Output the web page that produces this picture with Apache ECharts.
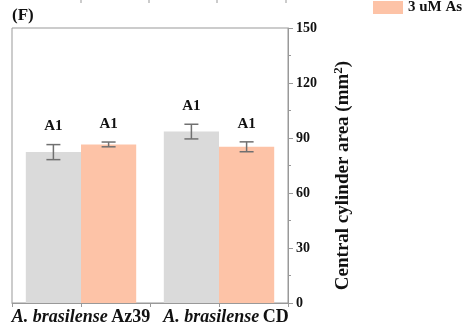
<!DOCTYPE html>
<html>
<head>
<meta charset="utf-8">
<script src="https://cdn.jsdelivr.net/npm/echarts@6/dist/echarts.min.js"></script>
<style>
  html, body { margin: 0; padding: 0; background: #fff; }
  #main { width: 465px; height: 326px; }
</style>
</head>
<body>
<div id="main"></div>
<script>
// 菌株类别
var strains = ['A. brasilense|Az39', 'A. brasilense|CD'];
// 系列名称
var seriesNames = ['Control', '3 uM As'];
// 平均值
var controlMean = [82.3, 93.5];
var arsenicMean = [86.5, 85.2];
// 误差（标准差）
var controlErr = [4.1, 4.0];
var arsenicErr = [1.3, 2.7];
// 显著性字母
var controlSig = ['A1', 'A1'];
var arsenicSig = ['A1', 'A1'];
// y 轴刻度
var yMin = 0, yMax = 150, yStep = 30;

var serif = '"Liberation Serif", "DejaVu Serif", serif';
var barColors = ['#dadada', '#fdc3a7'];

// 误差线数据：[类别序号, 均值, 误差, 字母, 偏移]
function errData(mean, err, sig, side) {
    return mean.map(function (v, i) {
        return [i, v, err[i], sig[i], side];
    });
}

function renderErr(params, api) {
    var idx = api.value(0);
    var mean = api.value(1);
    var err = api.value(2);
    var sig = api.value(3);
    var side = api.value(4);
    var bandW = api.size([1, 0])[0];
    var cx = api.coord([idx, mean])[0] + side * bandW * 0.2;
    var yTop = api.coord([idx, mean + err])[1];
    var yBot = api.coord([idx, mean - err])[1];
    var half = 7;
    var style = { stroke: '#707070', lineWidth: 1.5 };
    return {
        type: 'group',
        children: [
            { type: 'line', shape: { x1: cx, y1: yTop, x2: cx, y2: yBot }, style: style },
            { type: 'line', shape: { x1: cx - half, y1: yTop, x2: cx + half, y2: yTop }, style: style },
            { type: 'line', shape: { x1: cx - half, y1: yBot, x2: cx + half, y2: yBot }, style: style },
            {
                type: 'text',
                style: {
                    text: sig, x: cx, y: yTop - 18,
                    align: 'center', verticalAlign: 'middle',
                    font: 'bold 15px ' + serif, fill: '#111'
                }
            }
        ]
    };
}

// 上一幅图残留的刻度
var topTicks = [81, 149, 217, 286].map(function (x) {
    return { type: 'line', shape: { x1: x, y1: 0, x2: x, y2: 3 }, style: { stroke: '#999', lineWidth: 1 } };
});

var myChart = echarts.init(document.getElementById('main'));

var option = {
    animation: false,
    backgroundColor: '#fff',
    grid: {
        left: 12, right: 177, top: 28, bottom: 23,
        show: true, borderColor: '#999', borderWidth: 1
    },
    legend: {
        data: [seriesNames[1]],
        left: 368, top: -5,
        itemWidth: 30, itemHeight: 13, itemGap: 4,
        icon: 'rect',
        textStyle: { fontFamily: serif, fontWeight: 'bold', fontSize: 15, color: '#111' }
    },
    xAxis: [{
        type: 'category',
        data: strains,
        axisLine: { onZero: false, lineStyle: { color: '#999' } },
        axisTick: { show: false },
        axisLabel: {
            interval: 0,
            hideOverlap: false,
            margin: 5,
            formatter: function (v, i) {
                var p = v.split('|');
                return '{' + (i === 1 ? 'i2' : 'i') + '|' + p[0] + '} {b|' + p[1] + '}';
            },
            rich: {
                i: { fontFamily: serif, fontStyle: 'italic', fontWeight: 'bold', fontSize: 18, color: '#111' },
                i2: { fontFamily: serif, fontStyle: 'italic', fontWeight: 'bold', fontSize: 18, color: '#111', padding: [0, 0, 0, 14] },
                b: { fontFamily: serif, fontWeight: 'bold', fontSize: 18, color: '#111' }
            }
        }
    }, {
        // 仅用于绘制刻度线
        type: 'value',
        position: 'bottom',
        min: 0, max: 2, interval: 0.5,
        axisLine: { show: false, onZero: false },
        axisTick: { show: true, length: 4, lineStyle: { color: '#999' } },
        axisLabel: { show: false },
        splitLine: { show: false }
    }],
    yAxis: {
        type: 'value',
        position: 'right',
        min: yMin, max: yMax, interval: yStep,
        axisLine: { show: true, onZero: false, lineStyle: { color: '#999' } },
        axisTick: { show: true, length: 5, lineStyle: { color: '#999' } },
        minorTick: { show: true, splitNumber: 2, length: 3, lineStyle: { color: '#999' } },
        splitLine: { show: false },
        axisLabel: {
            margin: 8,
            fontFamily: serif, fontWeight: 'bold', fontSize: 14, color: '#111'
        },
        name: 'Central cylinder area (mm{sup|2})',
        nameLocation: 'middle',
        nameRotate: 90,
        nameGap: 44,
        nameTextStyle: {
            fontFamily: serif, fontWeight: 'bold', fontSize: 19, color: '#111',
            padding: [0, 20, 0, 0],
            rich: {
                sup: { fontFamily: serif, fontWeight: 'bold', fontSize: 13, color: '#111', verticalAlign: 'top', padding: [0, 0, 9, 0] }
            }
        }
    },
    series: [{
        name: seriesNames[0],
        type: 'bar',
        data: controlMean,
        barGap: 0,
        barWidth: '40%',
        itemStyle: { color: barColors[0] }
    }, {
        name: seriesNames[1],
        type: 'bar',
        data: arsenicMean,
        barGap: 0,
        barWidth: '40%',
        itemStyle: { color: barColors[1] }
    }, {
        type: 'custom',
        renderItem: renderErr,
        data: errData(controlMean, controlErr, controlSig, -1),
        z: 5
    }, {
        type: 'custom',
        renderItem: renderErr,
        data: errData(arsenicMean, arsenicErr, arsenicSig, 1),
        z: 5
    }],
    graphic: [{
        type: 'text',
        left: 12, top: 7,
        style: { text: '(F)', font: 'bold 17px ' + serif, fill: '#111' }
    }].concat(topTicks)
};

myChart.setOption(option);
</script>
</body>
</html>
